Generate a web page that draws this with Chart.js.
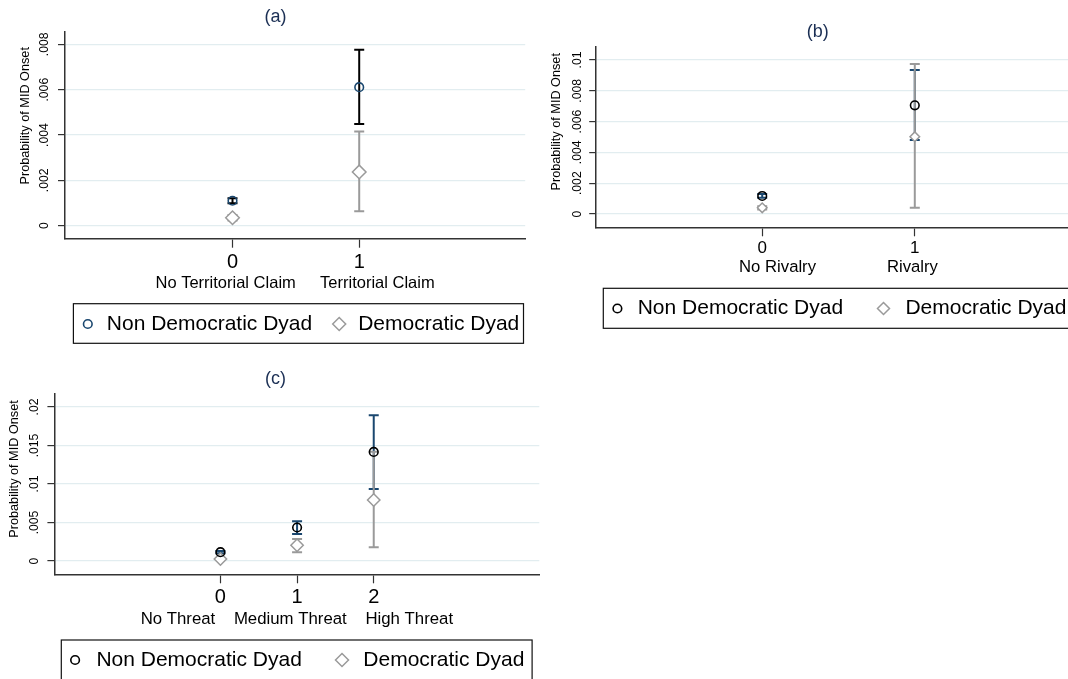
<!DOCTYPE html>
<html>
<head>
<meta charset="utf-8">
<script src="https://cdn.jsdelivr.net/npm/chart.js@4.4.1/dist/chart.umd.min.js"></script>
<style>
html, body { margin: 0; padding: 0; background: #ffffff; overflow: hidden; width: 1068px; height: 679px; }
#wrap { position: relative; width: 1068px; height: 679px; overflow: hidden; background: #ffffff; }
canvas { position: absolute; }
</style>
</head>
<body>
<div id="wrap">
  <canvas id="cA" style="left:0px;top:0px"></canvas>
  <canvas id="cB" style="left:540px;top:0px"></canvas>
  <canvas id="cC" style="left:0px;top:350px"></canvas>
</div>
<script>
// ---------------- data ----------------
const seriesNames = ['Non Democratic Dyad', 'Democratic Dyad'];
const yAxisLabel = 'Probability of MID Onset';

// Panel (a)
const titleA = '(a)';
const catsA = [0, 1];
const catNamesA = ['No Territorial Claim', 'Territorial Claim'];
const nonDemEstA = [0.00110, 0.00611];
const nonDemLoA  = [0.00099, 0.00449];
const nonDemHiA  = [0.00121, 0.00776];
const demEstA    = [0.00035, 0.00237];
const demLoA     = [0.00023, 0.00064];
const demHiA     = [0.00047, 0.00415];
const yTicksA      = [0, 0.002, 0.004, 0.006, 0.008];
const yTickLabelsA = ['0', '.002', '.004', '.006', '.008'];

// Panel (b)
const titleB = '(b)';
const catsB = [0, 1];
const catNamesB = ['No Rivalry', 'Rivalry'];
const nonDemEstB = [0.00117, 0.00706];
const nonDemLoB  = [0.00105, 0.00480];
const nonDemHiB  = [0.00130, 0.00935];
const demEstB    = [0.00040, 0.00502];
const demLoB     = [0.00030, 0.00041];
const demHiB     = [0.00050, 0.00974];
const yTicksB      = [0, 0.002, 0.004, 0.006, 0.008, 0.01];
const yTickLabelsB = ['0', '.002', '.004', '.006', '.008', '.01'];

// Panel (c)
const titleC = '(c)';
const catsC = [0, 1, 2];
const catNamesC = ['No Threat', 'Medium Threat', 'High Threat'];
const nonDemEstC = [0.00115, 0.00435, 0.01416];
const nonDemLoC  = [0.00100, 0.00350, 0.00935];
const nonDemHiC  = [0.00130, 0.00515, 0.01892];
const demEstC    = [0.00025, 0.00205, 0.00792];
const demLoC     = [0.00015, 0.00115, 0.00178];
const demHiC     = [0.00035, 0.00285, 0.01420];
const yTicksC      = [0, 0.005, 0.01, 0.015, 0.02];
const yTickLabelsC = ['0', '.005', '.01', '.015', '.02'];

// ---------------- styles ----------------
const FAM = "'Liberation Sans', Arial, Helvetica, sans-serif";
const NAVY = '#1a476f';
const BLACK = '#000000';
const GRAY = '#9a9a9a';
const AXIS = '#333333';
const GRID = '#e2edf0';
const TITLE_COL = '#1b2f54';

function pts(cats, vals) { return cats.map((c, i) => ({ x: c, y: vals[i] })); }
function ciSegs(cats, lo, hi) {
  const out = [];
  cats.forEach((c, i) => { out.push({ x: c, y: lo[i] }, { x: c, y: hi[i] }, { x: c, y: null }); });
  return out;
}
function capPts(cats, lo, hi) {
  const out = [];
  cats.forEach((c, i) => { out.push({ x: c, y: lo[i] }, { x: c, y: hi[i] }); });
  return out;
}

function makeTextPlugin(P) {
  return {
    id: 'panelText_' + P.id,
    afterDraw(chart) {
      const ctx = chart.ctx;
      const ys = chart.scales.y;
      const ox = P.left, oy = P.top;
      ctx.save();
      // panel title
      ctx.fillStyle = TITLE_COL;
      ctx.font = P.titleSize + 'px ' + FAM;
      ctx.textAlign = 'center';
      ctx.textBaseline = 'middle';
      ctx.fillText(P.title, P.titleX - ox, P.titleY - oy);
      // y axis title
      ctx.fillStyle = '#000';
      ctx.save();
      ctx.translate(P.yTitleX - ox, P.yTitleY - oy);
      ctx.rotate(-Math.PI / 2);
      ctx.font = '12.7px ' + FAM;
      ctx.fillText(yAxisLabel, 0, 0);
      ctx.restore();
      // y tick labels (rotated)
      ctx.font = '12.2px ' + FAM;
      P.yTicks.forEach((v, i) => {
        const py = ys.getPixelForValue(v);
        ctx.save();
        ctx.translate(P.yLabX - ox, py);
        ctx.rotate(-Math.PI / 2);
        ctx.fillText(P.yTickLabels[i], 0, 0);
        ctx.restore();
      });
      // legend
      const L = P.legend;
      ctx.strokeStyle = '#111';
      ctx.lineWidth = 1.2;
      ctx.strokeRect(L.x - ox, L.y - oy, L.w, L.h);
      // circle marker
      ctx.beginPath();
      ctx.arc(L.cx - ox, L.my - oy, 4.3, 0, Math.PI * 2);
      ctx.strokeStyle = P.ndMarkColor;
      ctx.lineWidth = 1.6;
      ctx.stroke();
      // diamond marker
      const r = L.dr, dx = L.dx - ox, dy = L.my - oy;
      ctx.beginPath();
      ctx.moveTo(dx, dy - r); ctx.lineTo(dx + r, dy); ctx.lineTo(dx, dy + r); ctx.lineTo(dx - r, dy); ctx.closePath();
      ctx.fillStyle = '#fff'; ctx.fill();
      ctx.strokeStyle = GRAY; ctx.lineWidth = 1.5; ctx.stroke();
      // legend text
      ctx.fillStyle = '#000';
      ctx.font = L.font + 'px ' + FAM;
      ctx.textAlign = 'left';
      ctx.textBaseline = 'middle';
      ctx.fillText(seriesNames[0], L.t1 - ox, L.my - oy);
      ctx.fillText(seriesNames[1], L.t2 - ox, L.my - oy);
      ctx.restore();
    }
  };
}

function makePanel(P) {
  const cv = document.getElementById(P.id);
  cv.width = P.w; cv.height = P.h;
  cv.style.width = P.w + 'px'; cv.style.height = P.h + 'px';
  new Chart(cv.getContext('2d'), {
    type: 'scatter',
    data: {
      datasets: [
        { type: 'line', label: 'ndCI', data: ciSegs(P.cats, P.ndLo, P.ndHi), borderColor: P.ndCIColor,
          borderWidth: 2, pointRadius: 0, spanGaps: false, fill: false, order: 5 },
        { type: 'scatter', label: 'ndCap', data: capPts(P.cats, P.ndLo, P.ndHi), pointStyle: 'line', pointRadius: 5,
          borderColor: P.ndCIColor, pointBorderColor: P.ndCIColor, pointBorderWidth: 2, borderWidth: 2, order: 4 },
        { type: 'line', label: 'dCI', data: ciSegs(P.cats, P.dLo, P.dHi), borderColor: GRAY,
          borderWidth: 2, pointRadius: 0, spanGaps: false, fill: false, order: 3 },
        { type: 'scatter', label: 'dCap', data: capPts(P.cats, P.dLo, P.dHi), pointStyle: 'line', pointRadius: 5,
          borderColor: GRAY, pointBorderColor: GRAY, pointBorderWidth: 2, borderWidth: 2, order: 2 },
        { type: 'scatter', label: seriesNames[1], data: pts(P.cats, P.dEst), pointStyle: 'rectRot', pointRadius: P.diamondR,
          borderColor: GRAY, pointBorderColor: GRAY, backgroundColor: '#ffffff', pointBackgroundColor: '#ffffff',
          pointBorderWidth: 1.5, order: 1 },
        { type: 'scatter', label: seriesNames[0], data: pts(P.cats, P.ndEst), pointStyle: 'circle', pointRadius: 4.3,
          borderColor: P.ndMarkColor, pointBorderColor: P.ndMarkColor, backgroundColor: 'rgba(0,0,0,0)',
          pointBackgroundColor: 'rgba(0,0,0,0)', pointBorderWidth: 1.6, order: 0 }
      ]
    },
    options: {
      responsive: false,
      animation: false,
      events: [],
      devicePixelRatio: 1,
      layout: { autoPadding: false, padding: P.padding },
      plugins: { legend: { display: false }, title: { display: false }, tooltip: { enabled: false } },
      scales: {
        x: {
          type: 'linear', min: P.xMin, max: P.xMax,
          afterBuildTicks: s => { s.ticks = P.cats.map(v => ({ value: v })); },
          afterFit: s => { s.height = P.xScaleH; },
          grid: { drawOnChartArea: false, drawTicks: true, tickLength: 9, tickColor: AXIS, tickWidth: 1.2 },
          border: { display: true, color: AXIS, width: 1.5 },
          ticks: { color: '#000', font: { family: FAM, size: P.xTickSize }, padding: P.xTickPad,
                   autoSkip: false, maxRotation: 0, minRotation: 0, callback: v => String(v) },
          title: { display: true, text: P.catNames.join(P.gap), color: '#000',
                   font: { family: FAM, size: P.xTitleSize }, padding: { top: 0, bottom: P.xTitlePadB } }
        },
        y: {
          type: 'linear', min: P.yMin, max: P.yMax,
          afterBuildTicks: s => { s.ticks = P.yTicks.map(v => ({ value: v })); },
          afterFit: s => { s.width = P.yScaleW; },
          grid: { color: GRID, lineWidth: 1.2, drawTicks: true, tickLength: 7, tickColor: AXIS, tickWidth: 1.2 },
          border: { display: true, color: AXIS, width: 1.5 },
          ticks: { display: false }
        }
      }
    },
    plugins: [makeTextPlugin(P)]
  });
}

makePanel({
  id: 'cA', left: 0, top: 0, w: 540, h: 350,
  padding: { left: 0, top: 31.7, right: 14.8, bottom: 0 },
  yScaleW: 65, xScaleH: 111.3,
  xMin: -1.322, xMax: 2.31, yMin: -0.000574, yMax: 0.008558,
  cats: catsA, catNames: catNamesA, gap: '     \u200A',
  ndEst: nonDemEstA, ndLo: nonDemLoA, ndHi: nonDemHiA,
  dEst: demEstA, dLo: demLoA, dHi: demHiA,
  yTicks: yTicksA, yTickLabels: yTickLabelsA,
  ndMarkColor: NAVY, ndCIColor: BLACK, diamondR: 6.8,
  xTickSize: 20, xTickPad: 2.3, xTitleSize: 16.5, xTitlePadB: 57.1,
  title: titleA, titleX: 275.5, titleY: 17.2, titleSize: 18,
  yTitleX: 25.3, yTitleY: 115.8, yLabX: 44.8,
  legend: { x: 73.4, y: 303.7, w: 450.1, h: 39.6, my: 324, cx: 87.8, t1: 106.8, dx: 339.2, t2: 358.2, dr: 6.5, font: 21 }
});

makePanel({
  id: 'cB', left: 540, top: 0, w: 560, h: 350,
  padding: { left: 0, top: 46.7, right: 19.2, bottom: 0 },
  yScaleW: 56.2, xScaleH: 122.7,
  xMin: -1.088, xMax: 2.088, yMin: -0.000864, yMax: 0.010864,
  cats: catsB, catNames: catNamesB, gap: '               \u200A',
  ndEst: nonDemEstB, ndLo: nonDemLoB, ndHi: nonDemHiB,
  dEst: demEstB, dLo: demLoB, dHi: demHiB,
  yTicks: yTicksB, yTickLabels: yTickLabelsB,
  ndMarkColor: BLACK, ndCIColor: NAVY, diamondR: 4.8,
  xTickSize: 17, xTickPad: 1.8, xTitleSize: 16.7, xTitlePadB: 73,
  title: titleB, titleX: 817.8, titleY: 32, titleSize: 18,
  yTitleX: 556.8, yTitleY: 121.8, yLabX: 577.7,
  legend: { x: 603.3, y: 288.3, w: 600, h: 40, my: 308.5, cx: 617.4, t1: 637.7, dx: 883.5, t2: 905.4, dr: 6, font: 21 }
});

makePanel({
  id: 'cC', left: 0, top: 350, w: 560, h: 340,
  padding: { left: 0, top: 43.3, right: 20.7, bottom: 0 },
  yScaleW: 54.4, xScaleH: 115.7,
  xMin: -2.166, xMax: 4.16, yMin: -0.001727, yMax: 0.021779,
  cats: catsC, catNames: catNamesC, gap: '    ',
  ndEst: nonDemEstC, ndLo: nonDemLoC, ndHi: nonDemHiC,
  dEst: demEstC, dLo: demLoC, dHi: demHiC,
  yTicks: yTicksC, yTickLabels: yTickLabelsC,
  ndMarkColor: BLACK, ndCIColor: NAVY, diamondR: 6.2,
  xTickSize: 20, xTickPad: 2.5, xTitleSize: 16.8, xTitlePadB: 60.9,
  title: titleC, titleX: 275.5, titleY: 379, titleSize: 18,
  yTitleX: 14.5, yTitleY: 469, yLabX: 34.4,
  legend: { x: 61.3, y: 640, w: 470.8, h: 60, my: 660, cx: 75.1, t1: 96.4, dx: 342, t2: 363.3, dr: 6.5, font: 21 }
});
</script>
</body>
</html>
